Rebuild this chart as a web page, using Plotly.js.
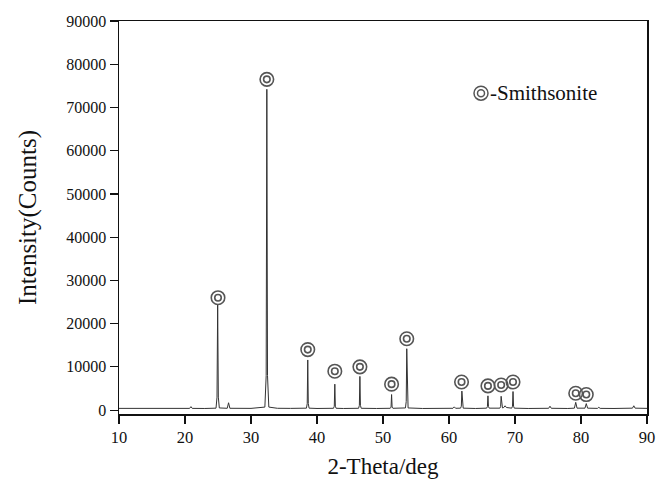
<!DOCTYPE html>
<html>
<head>
<meta charset="utf-8">
<script src="https://cdn.plot.ly/plotly-3.0.1.min.js"></script>
<style>html,body{margin:0;padding:0;background:#fff;}#chart{width:658px;height:479px;}</style>
</head>
<body>
<div id="chart"></div>
<script>
// XRD pattern (2-theta in degrees, intensity in counts)
const theta = [10, 12, 14, 16, 18, 20, 20.7, 20.9, 21.1, 23, 24.7, 24.85, 24.95, 25.05, 25.2, 26.4, 26.6, 26.8, 30,
  32.1, 32.3, 32.4, 32.5, 32.7, 34, 36, 38.4, 38.52, 38.6, 38.68, 38.8, 40, 42.5, 42.62, 42.7, 42.78, 42.9, 44,
  46.3, 46.42, 46.5, 46.58, 46.7, 49, 51.1, 51.22, 51.3, 51.38, 51.5, 53.4, 53.52, 53.6, 53.68, 53.8, 56, 58,
  60.6, 60.8, 61.0, 61.75, 61.87, 61.95, 62.03, 62.15, 64, 65.7, 65.82, 65.9, 65.98, 66.1, 67.7, 67.82, 67.9,
  67.98, 68.1, 68.3, 68.5, 68.7, 69.5, 69.62, 69.7, 69.78, 69.9, 72, 75.1, 75.3, 75.5, 78, 79.0, 79.2, 79.4,
  80.6, 80.8, 81.0, 82.5, 82.7, 82.9, 85, 87.8, 88.0, 88.2, 90];
const counts = [400, 380, 370, 360, 360, 380, 400, 800, 400, 380, 450, 3000, 24300, 3000, 500, 420, 1700, 420, 400,
  700, 8000, 74200, 8000, 700, 420, 400, 450, 1500, 11600, 1500, 450, 380, 420, 900, 6000, 900, 420, 380,
  420, 1100, 7800, 1100, 420, 380, 420, 700, 3600, 700, 420, 500, 2000, 14200, 2000, 500, 380, 380,
  420, 750, 420, 450, 900, 4400, 900, 450, 380, 450, 800, 3300, 800, 450, 450, 800, 3200,
  800, 500, 600, 1000, 600, 450, 900, 4300, 900, 450, 380, 420, 900, 420, 380, 450, 1800, 450,
  450, 1500, 450, 400, 650, 400, 380, 450, 1000, 450, 400];

// Smithsonite peak markers
const markTheta = [25.0, 32.4, 38.6, 42.7, 46.5, 51.3, 53.6, 61.9, 65.9, 67.9, 69.7, 79.2, 80.8];
const markCounts = [26000, 76500, 14000, 9000, 10000, 6000, 16500, 6500, 5600, 5800, 6500, 3900, 3600];

const yTicks = [0, 10000, 20000, 30000, 40000, 50000, 60000, 70000, 80000, 90000];
const xTicks = [10, 20, 30, 40, 50, 60, 70, 80, 90];
const legendLabel = '-Smithsonite';

const serif = 'Liberation Serif, Times New Roman, serif';
const markColor = '#555';

const traces = [
  {x: theta, y: counts, type: 'scatter', mode: 'lines', line: {color: '#333', width: 1}, hoverinfo: 'skip'},
  {x: markTheta, y: markCounts, type: 'scatter', mode: 'markers',
   marker: {symbol: 'circle-open', size: 13.5, color: markColor, line: {width: 1.6, color: markColor}}},
  {x: markTheta, y: markCounts, type: 'scatter', mode: 'markers',
   marker: {symbol: 'circle-open', size: 6.5, color: markColor, line: {width: 1.6, color: markColor}}}
];

const lx = 0.6856, ly = 0.8163;
const layout = {
  width: 658, height: 479,
  margin: {l: 119, r: 11, t: 21, b: 65},
  paper_bgcolor: '#fff', plot_bgcolor: '#fff',
  showlegend: false,
  font: {family: serif, color: '#111', size: 16},
  xaxis: {
    range: [10, 90], tickvals: xTicks, ticktext: xTicks.map(String),
    showgrid: false, zeroline: false, showline: true, mirror: true,
    linecolor: '#111', linewidth: 1.5, ticks: 'outside', ticklen: 8, tickwidth: 1.2, tickcolor: '#111',
    tickfont: {family: serif, size: 16.5, color: '#111'},
    title: {text: '2-Theta/deg', font: {family: serif, size: 23, color: '#111'}, standoff: 18}
  },
  yaxis: {
    range: [-900, 90000], tickvals: yTicks, ticktext: yTicks.map(String),
    showgrid: false, zeroline: false, showline: true, mirror: true,
    linecolor: '#111', linewidth: 1.5, ticks: 'outside', ticklen: 8, tickwidth: 1.2, tickcolor: '#111',
    tickfont: {family: serif, size: 16, color: '#111'},
    title: {text: 'Intensity(Counts)', font: {family: serif, size: 25, color: '#111'}, standoff: 22}
  },
  shapes: [
    {type: 'circle', xref: 'paper', yref: 'paper', xsizemode: 'pixel', ysizemode: 'pixel',
     xanchor: lx, yanchor: ly, x0: -7, x1: 7, y0: -7, y1: 7, line: {color: markColor, width: 1.5}},
    {type: 'circle', xref: 'paper', yref: 'paper', xsizemode: 'pixel', ysizemode: 'pixel',
     xanchor: lx, yanchor: ly, x0: -3.5, x1: 3.5, y0: -3.5, y1: 3.5, line: {color: markColor, width: 1.5}}
  ],
  annotations: [
    {xref: 'paper', yref: 'paper', x: 0.6985, y: ly, xanchor: 'left', yanchor: 'middle',
     text: legendLabel, showarrow: false, font: {family: serif, size: 21, color: '#111'}}
  ]
};

Plotly.newPlot('chart', traces, layout, {displayModeBar: false, staticPlot: true});
</script>
</body>
</html>
